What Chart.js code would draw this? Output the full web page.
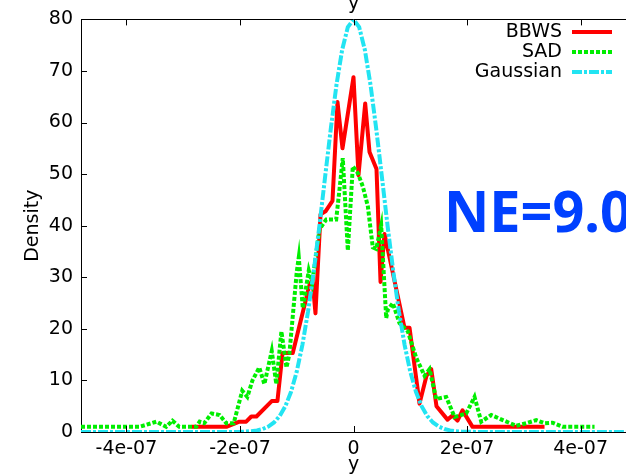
<!DOCTYPE html>
<html>
<head>
<meta charset="utf-8">
<script src="https://cdn.jsdelivr.net/npm/chart.js@4"></script>
<style>
html, body { margin: 0; padding: 0; background: #fff; }
#wrap { width: 626px; height: 476px; }
</style>
</head>
<body>
<div id="wrap"><canvas id="chart"></canvas></div>
<script>
// tick values / labels
const xTicks = [-4e-7, -2e-7, 0, 2e-7, 4e-7];
const xTickLabels = ['-4e-07', '-2e-07', '0', '2e-07', '4e-07'];
const yTicks = [0, 10, 20, 30, 40, 50, 60, 70, 80];
const yTickLabels = ['0', '10', '20', '30', '40', '50', '60', '70', '80'];

const seriesNames = ['BBWS', 'SAD', 'Gaussian'];
const neLabel = 'NE=9.0';

// BBWS
const bbwsX = [-2.85e-7, -2.24e-7, -2.01e-7, -1.89e-7, -1.80e-7, -1.71e-7, -1.44e-7, -1.34e-7,
  -1.25e-7, -1.07e-7, -7.75e-8, -7.22e-8, -6.7e-8, -5.81e-8, -4.93e-8, -3.7e-8, -2.82e-8,
  -1.94e-8, 0, 8.8e-9, 2.06e-8, 2.82e-8, 4.05e-8, 4.76e-8, 5.46e-8, 8.99e-8, 9.87e-8,
  1.163e-7, 1.286e-7, 1.369e-7, 1.462e-7, 1.656e-7, 1.744e-7, 1.832e-7, 1.92e-7, 2.097e-7, 3.365e-7];
const bbwsY = [1, 1, 2, 2, 3, 3, 6, 6,
  15.3, 15.3, 28.5, 29.5, 23, 42.2, 42.8, 44.8, 64,
  55, 68.8, 49.8, 63.7, 54.3, 51, 29.1, 38.4, 20.2, 20.2,
  5.5, 10.9, 12.2, 5, 2.4, 3.2, 2.2, 4.2, 1, 1];

// SAD
const sadX = [-4.8e-7, -3.77e-7, -3.47e-7, -3.30e-7, -3.19e-7, -3.07e-7, -2.77e-7, -2.71e-7,
  -2.63e-7, -2.50e-7, -2.36e-7, -2.24e-7, -2.11e-7, -1.96e-7, -1.87e-7, -1.78e-7, -1.66e-7,
  -1.57e-7, -1.44e-7, -1.36e-7, -1.27e-7, -1.18e-7, -1.13e-7, -1.0e-7, -9.64e-8, -8.93e-8,
  -7.88e-8, -7.28e-8, -6.7e-8, -5.99e-8, -4.81e-8, -3.05e-8, -2.47e-8, -1.89e-8, -1.0e-8,
  -1.2e-9, 7.6e-9, 1.64e-8, 2.52e-8, 3.4e-8, 4.0e-8, 4.88e-8, 5.16e-8, 5.76e-8, 6.04e-8,
  6.92e-8, 8.1e-8, 9.57e-8, 1.105e-7, 1.251e-7, 1.339e-7, 1.457e-7, 1.633e-7, 1.78e-7,
  1.986e-7, 2.132e-7, 2.25e-7, 2.426e-7, 2.631e-7, 2.867e-7, 3.043e-7, 3.219e-7, 3.365e-7,
  3.506e-7, 3.683e-7, 4.246e-7];
const sadY = [1, 1, 2, 1, 2.2, 1, 1, 2,
  1.7, 3.6, 3.3, 1.7, 1.7, 8, 6.8, 10, 12.5,
  9.3, 15.7, 9.3, 19.5, 12.5, 15.1, 31, 33.9, 24,
  31.3, 28.8, 33.6, 39.3, 41.2, 41.2, 47, 53.1, 35.2,
  51.5, 50.2, 47.6, 43.8, 35.8, 35.5, 40, 34.2, 22.1, 23.7,
  25, 21.1, 19.5, 14.4, 10.9, 12.2, 6.4, 6.8, 2.9,
  3.6, 6.8, 2, 3.3, 2.3, 1.2, 1.7, 2.3, 1.7,
  1.8, 1, 1];

// Gaussian
const gaussX = [-4.8e-7, -2.2e-7, -2.0e-7, -1.9e-7, -1.8e-7, -1.7e-7, -1.6e-7, -1.5e-7, -1.4e-7,
  -1.3e-7, -1.2e-7, -1.1e-7, -1.0e-7, -9e-8, -8e-8, -7e-8, -6e-8, -5e-8, -4e-8, -3e-8, -2e-8,
  -1e-8, 0, 1e-8, 2e-8, 3e-8, 4e-8, 5e-8, 6e-8, 7e-8, 8e-8, 9e-8, 1.0e-7, 1.1e-7, 1.2e-7,
  1.3e-7, 1.4e-7, 1.5e-7, 1.6e-7, 1.7e-7, 1.8e-7, 1.9e-7, 2.0e-7, 2.2e-7, 4.8e-7];
const gaussY = [0, 0.01, 0.04, 0.08, 0.16, 0.31, 0.58, 1.06, 1.85,
  3.1, 5.0, 7.8, 11.7, 16.9, 23.4, 31.2, 40.0, 49.5, 58.8, 67.3, 74.1,
  78.5, 80, 78.5, 74.1, 67.3, 58.8, 49.5, 40.0, 31.2, 23.4, 16.9, 11.7, 7.8, 5.0,
  3.1, 1.85, 1.06, 0.58, 0.31, 0.16, 0.08, 0.04, 0.01, 0];

const pts = (xs, ys) => xs.map((x, i) => ({ x: x, y: ys[i] }));
const font = { family: 'DejaVu Sans', size: 19 };

const overlay = {
  id: 'overlay',
  afterDraw(chart) {
    const ctx = chart.ctx;
    const area = chart.chartArea;
    const xs = chart.scales.x, ys = chart.scales.y;
    ctx.save();
    // top border + inward ticks
    ctx.strokeStyle = '#000';
    ctx.lineWidth = 1;
    ctx.beginPath();
    ctx.moveTo(area.left, Math.round(area.top) + 0.5);
    ctx.lineTo(area.right, Math.round(area.top) + 0.5);
    xTicks.forEach(v => {
      const px = Math.round(xs.getPixelForValue(v)) + 0.5;
      ctx.moveTo(px, area.bottom); ctx.lineTo(px, area.bottom - 6);
      ctx.moveTo(px, area.top); ctx.lineTo(px, area.top + 6);
    });
    yTicks.forEach(v => {
      const py = Math.round(ys.getPixelForValue(v)) + 0.5;
      ctx.moveTo(area.left, py); ctx.lineTo(area.left + 6, py);
    });
    ctx.stroke();

    // top "y" label
    ctx.fillStyle = '#000';
    ctx.font = '19px "DejaVu Sans"';
    ctx.textAlign = 'center';
    ctx.textBaseline = 'alphabetic';
    ctx.fillText('y', xs.getPixelForValue(0), 9);

    // legend, gnuplot style
    ctx.textAlign = 'right';
    ctx.textBaseline = 'middle';
    chart.data.datasets.forEach((ds, i) => {
      const y = 32 + i * 20;
      ctx.fillStyle = '#000';
      ctx.fillText(ds.label, 562, y);
      ctx.strokeStyle = ds.borderColor;
      ctx.lineWidth = ds.borderWidth;
      ctx.setLineDash(ds.borderDash || []);
      ctx.beginPath();
      ctx.moveTo(572, y); ctx.lineTo(612, y);
      ctx.stroke();
    });
    ctx.setLineDash([]);

    // NE label
    ctx.font = 'bold 57px "Noto Sans"';
    ctx.fillStyle = '#0040ff';
    const w = ctx.measureText('NE=9.').width;
    ctx.translate(444, 232);
    ctx.scale(156 / w, 1);
    ctx.textAlign = 'left';
    ctx.textBaseline = 'alphabetic';
    ctx.fillText(neLabel, 0, 0);
    ctx.restore();
  }
};

new Chart(document.getElementById('chart'), {
  type: 'line',
  data: {
    datasets: [
      {
        label: seriesNames[0],
        data: pts(bbwsX, bbwsY),
        borderColor: '#ff0000',
        borderWidth: 4,
        borderJoinStyle: 'round',
        order: 3
      },
      {
        label: seriesNames[1],
        data: pts(sadX, sadY),
        borderColor: '#00ee00',
        borderWidth: 4,
        borderDash: [4, 2],
        borderCapStyle: 'butt',
        order: 2
      },
      {
        label: seriesNames[2],
        data: pts(gaussX, gaussY),
        borderColor: '#22e4f2',
        borderWidth: 4,
        borderDash: [10, 2, 3, 2],
        borderCapStyle: 'butt',
        order: 1
      }
    ]
  },
  options: {
    responsive: true,
    maintainAspectRatio: false,
    animation: false,
    devicePixelRatio: 1,
    layout: { padding: { top: 14, right: 0, left: 0, bottom: 0 } },
    elements: { point: { radius: 0 }, line: { tension: 0, fill: false } },
    plugins: { legend: { display: false }, tooltip: { enabled: false } },
    scales: {
      x: {
        type: 'linear',
        min: -4.8e-7,
        max: 4.8e-7,
        grid: { display: false, drawTicks: false },
        border: { display: true, color: '#000', width: 1 },
        afterBuildTicks: s => { s.ticks = xTicks.map(v => ({ value: v })); },
        afterFit: s => { s.height = 44; },
        ticks: {
          font: font, color: '#000', padding: 6, maxRotation: 0, autoSkip: false,
          callback: (v, i) => xTickLabels[i]
        },
        title: { display: true, text: 'y', font: font, color: '#000', padding: { top: 0, bottom: 0 } }
      },
      y: {
        min: 0,
        max: 80,
        grid: { display: false, drawTicks: false },
        border: { display: true, color: '#000', width: 1 },
        afterBuildTicks: s => { s.ticks = yTicks.map(v => ({ value: v })); },
        afterFit: s => { s.width = 81; },
        ticks: {
          font: font, color: '#000', padding: 8, autoSkip: false,
          callback: (v, i) => yTickLabels[i]
        },
        title: { display: true, text: 'Density', font: font, color: '#000', padding: { top: 22, bottom: 0 } }
      }
    }
  },
  plugins: [overlay]
});
</script>
</body>
</html>
